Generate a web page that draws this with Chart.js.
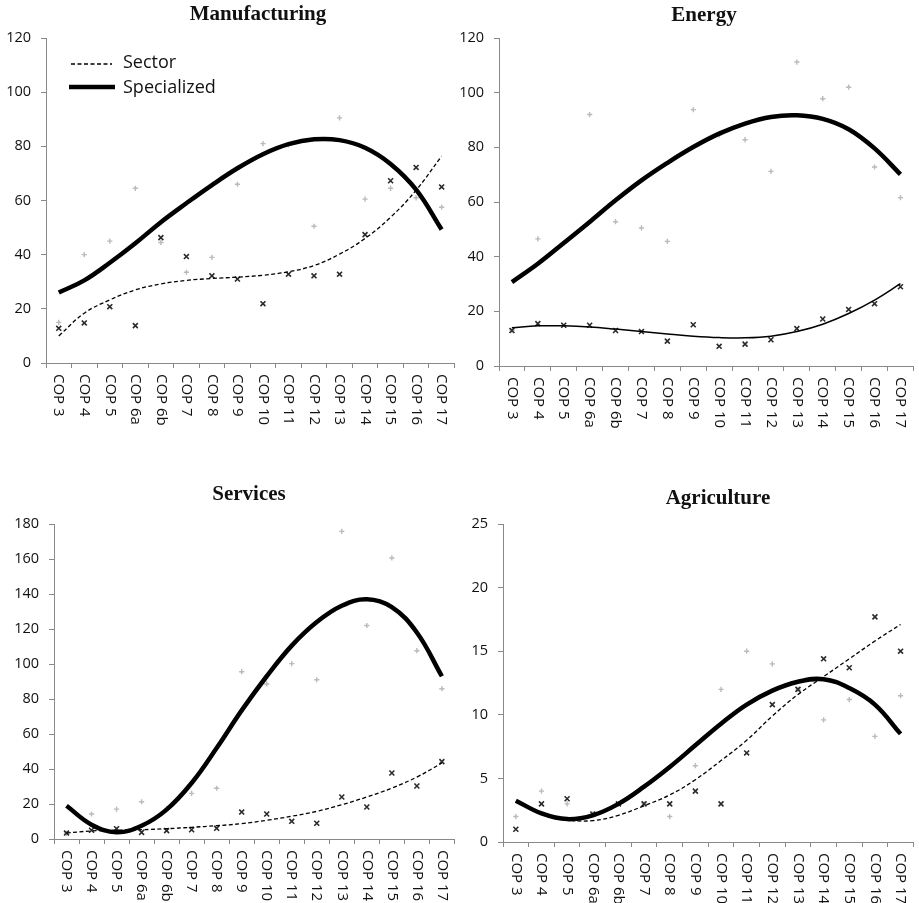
<!DOCTYPE html>
<html>
<head>
<meta charset="utf-8">
<script src="https://cdn.jsdelivr.net/npm/chart.js@4.4.0/dist/chart.umd.min.js"></script>
<style>
    body { margin: 0; background: #fff; }
    #wrap { position: relative; width: 919px; height: 903px; }
    canvas { position: absolute; }
</style>
</head>
<body>
<div id="wrap">
    <canvas id="manufacturing" width="460" height="440" style="left:0;top:0"></canvas>
    <canvas id="energy" width="459" height="440" style="left:460px;top:0"></canvas>
    <canvas id="services" width="460" height="433" style="left:0;top:470px"></canvas>
    <canvas id="agriculture" width="459" height="433" style="left:460px;top:470px"></canvas>
</div>
<script>
// categories along the x axis
var categories = ["COP 3", "COP 4", "COP 5", "COP 6a", "COP 6b", "COP 7", "COP 8", "COP 9",
    "COP 10", "COP 11", "COP 12", "COP 13", "COP 14", "COP 15", "COP 16", "COP 17"];

// Manufacturing
var manufacturingSpecialized = [15, 40, 45, 64.5, 44.5, 33.5, 39, 66, 81, 80.5, 50.5, 90.5, 60.5, 64.5, 61, 57.5];
var manufacturingSector = [12.8, 14.8, 20.8, 13.8, 46.3, 39.3, 32.2, 31, 21.9, 32.8, 32.2, 32.8, 47.4, 67.3, 72.2, 65];
var manufacturingSectorTrend = [10, 18.4, 23.3, 27, 29.2, 30.5, 31.2, 31.7, 32.4, 33.7, 36, 40.2, 46, 53.8, 63.8, 76.4];
var manufacturingSpecializedTrend = [26, 30.5, 37, 44.2, 52, 59, 65.7, 71.9, 77.1, 80.8, 82.6, 82.3, 79.5, 73.5, 64, 49.3];

// Energy
var energySpecialized = [13, 46.5, 45, 92, 52.8, 50.5, 45.6, 93.8, 84.5, 82.8, 71.2, 111.2, 97.8, 102, 72.8, 61.6];
var energySector = [13, 15.5, 14.9, 14.9, 13, 12.6, 9.1, 15.1, 7.2, 8, 9.6, 13.7, 17.2, 20.7, 22.8, 29];
var energySectorTrend = [14, 14.7, 14.7, 14.3, 13.5, 12.6, 11.7, 10.9, 10.4, 10.3, 10.9, 12.6, 15.3, 19.2, 24.1, 30.1];
var energySpecializedTrend = [30.7, 37.4, 45, 52.7, 60.6, 67.9, 74.3, 80.1, 85, 88.7, 91.1, 91.7, 90.4, 86.6, 79.6, 70.1];

// Services
var servicesSpecialized = [3.4, 14.3, 17.1, 21.3, 17.5, 26.1, 29, 95.6, 88.6, 100.2, 91, 175.8, 122, 160.6, 107.6, 85.9];
var servicesSector = [3.4, 5, 5.9, 3.8, 4.8, 5.3, 6.1, 15.4, 14.3, 10.1, 9, 24, 18.3, 37.7, 30.3, 44.2];
var servicesSectorTrend = [3.4, 4.6, 5, 5.3, 5.9, 6.7, 7.6, 8.8, 10.7, 13, 15.8, 19.6, 24, 29.1, 35.4, 43.4];
var servicesSpecializedTrend = [19, 8.2, 3.8, 7.6, 16.8, 32, 52, 73.5, 93, 110.5, 124, 133.3, 137, 132.5, 118, 93];

// Agriculture
var agricultureSpecialized = [2, 4, 3, 2.2, 3, 3, 2, 6, 12, 15, 14, 12, 9.6, 11.2, 8.3, 11.5];
var agricultureSector = [1, 3, 3.4, 2.2, 3, 3, 3, 4, 3, 7, 10.8, 12, 14.4, 13.7, 17.7, 15];
var agricultureSectorTrend = [3.2, 2.3, 1.75, 1.68, 2.1, 2.85, 3.7, 4.9, 6.4, 8, 9.9, 11.6, 13, 14.4, 15.8, 17.1];
var agricultureSpecializedTrend = [3.25, 2.25, 1.8, 2.1, 3, 4.35, 5.9, 7.6, 9.3, 10.8, 11.9, 12.6, 12.8, 12.1, 10.8, 8.5];

var axisGray = "#898989";
var textColor = "#111";

// titles, rotated category labels and the legend drawn onto each panel
var panelDecor = {
    id: "panelDecor",
    afterDraw: function (chart, args, opts) {
        var ctx = chart.ctx;
        var xs = chart.scales.x;
        ctx.save();
        ctx.fillStyle = textColor;
        ctx.font = '15px "Open Sans"';
        ctx.textAlign = "left";
        ctx.textBaseline = "middle";
        categories.forEach(function (label, i) {
            ctx.save();
            ctx.translate(xs.getPixelForValue(i), xs.top + 11);
            ctx.rotate(Math.PI / 2);
            ctx.fillText(label, 0, 0);
            ctx.restore();
        });

        ctx.font = 'bold 21px "Liberation Serif"';
        ctx.textAlign = "center";
        ctx.textBaseline = "alphabetic";
        ctx.fillText(opts.title, opts.titleX, opts.titleY);

        if (opts.legend) {
            ctx.strokeStyle = "#000";
            ctx.lineWidth = 1.3;
            ctx.setLineDash([4, 2.5]);
            ctx.beginPath();
            ctx.moveTo(71, 64);
            ctx.lineTo(112, 64);
            ctx.stroke();
            ctx.setLineDash([]);
            ctx.lineWidth = 4.5;
            ctx.beginPath();
            ctx.moveTo(69, 87);
            ctx.lineTo(115, 87);
            ctx.stroke();
            ctx.font = '18px "Open Sans"';
            ctx.textAlign = "left";
            ctx.textBaseline = "middle";
            ctx.fillText("Sector", 123, 63);
            ctx.fillText("Specialized", 123, 88);
        }
        ctx.restore();
    }
};

function makePanel(canvasId, cfg) {
    var ctx = document.getElementById(canvasId).getContext("2d");
    return new Chart(ctx, {
        type: "line",
        data: {
            labels: categories,
            datasets: [
                {
                    data: cfg.specializedTrend,
                    borderColor: "#000",
                    borderWidth: 4.5,
                    tension: 0.4,
                    pointRadius: 0,
                    fill: false
                },
                {
                    data: cfg.sectorTrend,
                    borderColor: "#000",
                    borderWidth: cfg.sectorSolid ? 1.5 : 1.3,
                    borderDash: cfg.sectorSolid ? [] : [4, 2.5],
                    tension: 0.4,
                    pointRadius: 0,
                    fill: false
                },
                {
                    data: cfg.sector,
                    showLine: false,
                    pointStyle: "crossRot",
                    pointRadius: 3.5,
                    pointBorderWidth: 1.6,
                    pointBorderColor: "#2b2b2b"
                },
                {
                    data: cfg.specialized,
                    showLine: false,
                    pointStyle: "cross",
                    pointRadius: 2.6,
                    pointBorderWidth: 1.4,
                    pointBorderColor: "#bababa"
                }
            ]
        },
        options: {
            responsive: false,
            animation: false,
            devicePixelRatio: 1,
            layout: { padding: { top: cfg.top, right: cfg.right, bottom: 0, left: 0 } },
            plugins: {
                legend: { display: false },
                title: { display: false },
                tooltip: { enabled: false },
                panelDecor: cfg.decor
            },
            scales: {
                x: {
                    offset: true,
                    grid: {
                        offset: true,
                        drawOnChartArea: false,
                        drawTicks: true,
                        tickLength: 5,
                        color: axisGray
                    },
                    border: { color: axisGray, width: 1 },
                    ticks: { display: false, autoSkip: false },
                    afterFit: function (scale) { scale.height = cfg.xHeight; }
                },
                y: {
                    min: 0,
                    max: cfg.yMax,
                    ticks: {
                        stepSize: cfg.yStep,
                        padding: 10,
                        color: textColor,
                        font: { family: "Open Sans", size: 14.5 }
                    },
                    grid: {
                        drawOnChartArea: false,
                        drawTicks: true,
                        tickLength: 5,
                        color: axisGray
                    },
                    border: { color: axisGray, width: 1 },
                    afterFit: function (scale) { scale.width = cfg.yWidth; }
                }
            }
        },
        plugins: [panelDecor]
    });
}

makePanel("manufacturing", {
    specialized: manufacturingSpecialized,
    sector: manufacturingSector,
    sectorTrend: manufacturingSectorTrend,
    specializedTrend: manufacturingSpecializedTrend,
    yMax: 120, yStep: 20,
    top: 38, right: 5, xHeight: 77, yWidth: 46,
    decor: { title: "Manufacturing", titleX: 258, titleY: 20, legend: true }
});

makePanel("energy", {
    specialized: energySpecialized,
    sector: energySector,
    sectorTrend: energySectorTrend,
    specializedTrend: energySpecializedTrend,
    sectorSolid: true,
    yMax: 120, yStep: 20,
    top: 38, right: 1, xHeight: 74, yWidth: 39,
    decor: { title: "Energy", titleX: 244, titleY: 20.5 }
});

makePanel("services", {
    specialized: servicesSpecialized,
    sector: servicesSector,
    sectorTrend: servicesSectorTrend,
    specializedTrend: servicesSpecializedTrend,
    yMax: 180, yStep: 20,
    top: 54, right: 3, xHeight: 64, yWidth: 54,
    decor: { title: "Services", titleX: 249, titleY: 29.5 }
});

makePanel("agriculture", {
    specialized: agricultureSpecialized,
    sector: agricultureSector,
    sectorTrend: agricultureSectorTrend,
    specializedTrend: agricultureSpecializedTrend,
    yMax: 25, yStep: 5,
    top: 54, right: 3, xHeight: 61, yWidth: 43,
    decor: { title: "Agriculture", titleX: 258, titleY: 33.5 }
});
</script>
</body>
</html>
